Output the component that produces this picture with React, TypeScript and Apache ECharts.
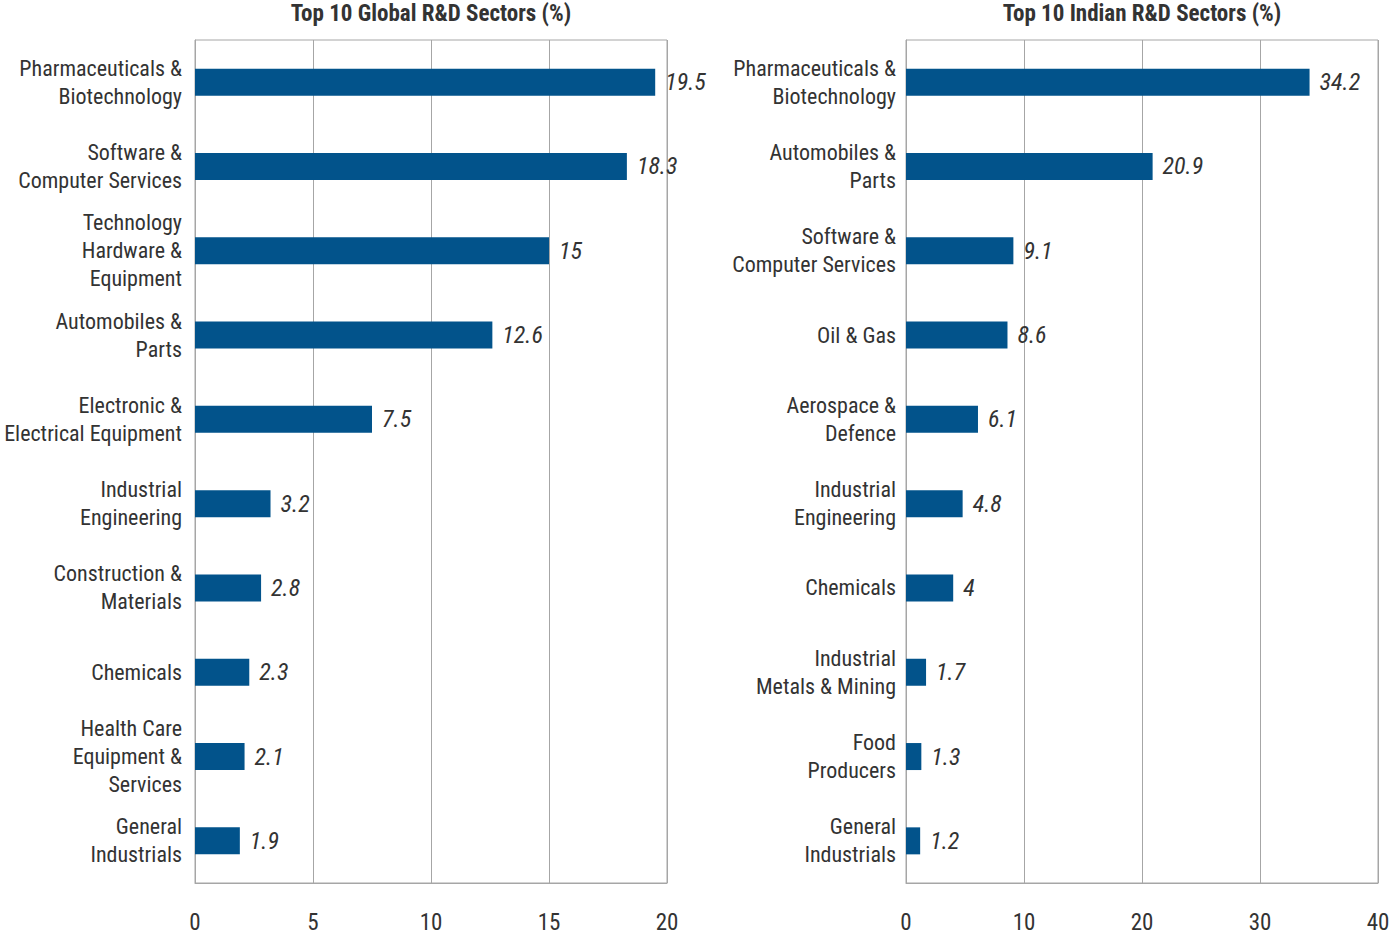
import React, { useEffect, useRef } from "react";
import * as echarts from "echarts";

const globalCategories = [
  "Pharmaceuticals &\nBiotechnology",
  "Software &\nComputer Services",
  "Technology\nHardware &\nEquipment",
  "Automobiles &\nParts",
  "Electronic &\nElectrical Equipment",
  "Industrial\nEngineering",
  "Construction &\nMaterials",
  "Chemicals",
  "Health Care\nEquipment &\nServices",
  "General\nIndustrials",
];
const globalValues = [19.5, 18.3, 15, 12.6, 7.5, 3.2, 2.8, 2.3, 2.1, 1.9];

const indianCategories = [
  "Pharmaceuticals &\nBiotechnology",
  "Automobiles &\nParts",
  "Software &\nComputer Services",
  "Oil & Gas",
  "Aerospace &\nDefence",
  "Industrial\nEngineering",
  "Chemicals",
  "Industrial\nMetals & Mining",
  "Food\nProducers",
  "General\nIndustrials",
];
const indianValues = [34.2, 20.9, 9.1, 8.6, 6.1, 4.8, 4, 1.7, 1.3, 1.2];

const titles = ["Top 10 Global R&D Sectors (%)", "Top 10 Indian R&D Sectors (%)"];
const axisMax = [20, 40];
const axisInterval = [5, 10];

const FONT = "'Roboto Condensed', 'Liberation Sans Narrow', Roboto, sans-serif";
const BAR = "#02538B";
const GRIDC = "#a6a6a6";
const TEXT = "#333333";

export default function App() {
  const ref = useRef<HTMLDivElement>(null);
  useEffect(() => {
    document.body.style.margin = "0";
    if (!ref.current) return;
    const chart = echarts.init(ref.current, undefined, { renderer: "svg" });
    const grids = [
      { left: 195, top: 40, width: 472, height: 843 },
      { left: 906, top: 40, width: 472, height: 843 },
    ];
    const cats = [globalCategories, indianCategories];
    const vals = [globalValues, indianValues];
    chart.setOption({
      animation: false,
      backgroundColor: "#ffffff",
      textStyle: { fontFamily: FONT },
      title: titles.map((t, i) => ({
        text: t,
        left: grids[i].left + grids[i].width / 2,
        textAlign: "center",
        top: 2,
        padding: 0,
        textStyle: { fontFamily: FONT, fontSize: 23, fontWeight: "bold", color: TEXT },
      })),
      grid: grids.map((g) => ({
        ...g,
        show: true,
        borderColor: GRIDC,
        borderWidth: 1,
        containLabel: false,
        outerBoundsMode: "none",
      })),
      xAxis: [0, 1].map((i) => ({
        type: "value",
        gridIndex: i,
        min: 0,
        max: axisMax[i],
        interval: axisInterval[i],
        axisLine: { show: true, lineStyle: { color: GRIDC } },
        axisTick: { show: false },
        splitLine: { show: true, lineStyle: { color: GRIDC, width: 1 } },
        axisLabel: { fontFamily: FONT, fontSize: 23, color: TEXT, margin: 28 },
      })),
      yAxis: [0, 1].map((i) => ({
        type: "category",
        gridIndex: i,
        inverse: true,
        data: cats[i],
        axisLine: { show: true, lineStyle: { color: GRIDC } },
        axisTick: { show: false },
        axisLabel: {
          fontFamily: FONT,
          fontSize: 22,
          color: TEXT,
          lineHeight: 28,
          margin: i === 0 ? 13 : 10,
          align: "right",
        },
      })),
      series: [0, 1].map((i) => ({
        type: "bar",
        xAxisIndex: i,
        yAxisIndex: i,
        data: vals[i],
        barWidth: 27,
        itemStyle: { color: BAR },
        label: {
          show: true,
          position: "right",
          distance: 10,
          fontFamily: FONT,
          fontSize: 24,
          fontStyle: "italic",
          color: TEXT,
        },
      })),
    });
    return () => chart.dispose();
  }, []);
  return (
    <div
      ref={ref}
      style={{ position: "fixed", left: 0, top: 0, width: 1393, height: 938 }}
    />
  );
}
